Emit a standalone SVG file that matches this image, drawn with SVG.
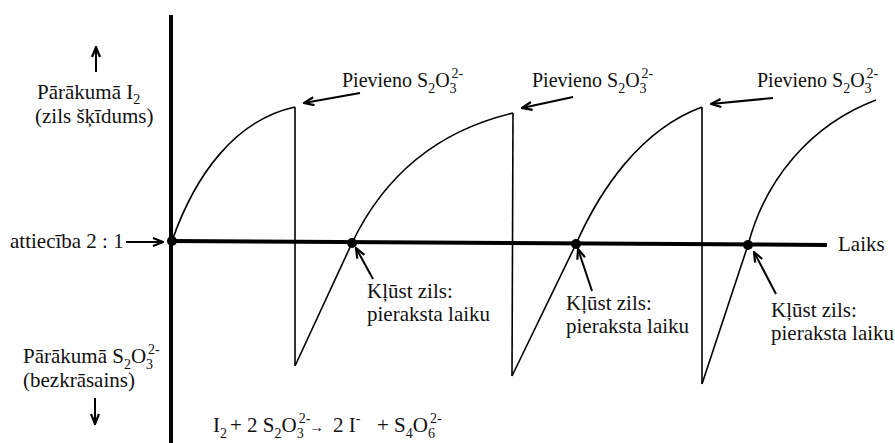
<svg xmlns="http://www.w3.org/2000/svg" width="895" height="443" viewBox="0 0 895 443">
<style>
.t{font-family:"Liberation Serif","DejaVu Serif","Times New Roman",serif;font-size:21px;fill:#111}
.p{font-size:20px}
.s{font-size:14px}
.axis{stroke:#000;stroke-width:4;fill:none;stroke-linecap:butt}
.curve{stroke:#000;stroke-width:1.6;fill:none;stroke-linejoin:miter}
.vline{stroke:#000;stroke-width:1.6;fill:none}
.arr{stroke:#000;stroke-width:2;fill:none;marker-end:url(#ah)}
.dot{fill:#000}
</style>
<defs>
<marker id="ah" viewBox="0 0 12 10" refX="11" refY="5" markerWidth="12" markerHeight="10" markerUnits="userSpaceOnUse" orient="auto">
<path d="M1,1 L11,5 L1,9" fill="none" stroke="#000" stroke-width="2.2"/>
</marker>
</defs>
<rect width="895" height="443" fill="#fff"/>

<g id="axes">
<line class="axis" x1="171" y1="15" x2="171" y2="443"/>
<line class="axis" x1="169" y1="241" x2="827" y2="245"/>
</g>

<g id="curves">
<path class="curve" d="M172,241 C195,175 235,120 295,107"/>
<line class="vline" x1="295" y1="107" x2="295" y2="366"/>
<path class="curve" d="M295,366 L352,243 C375,195 420,135 513,113"/>
<line class="vline" x1="513" y1="113" x2="512" y2="376"/>
<path class="curve" d="M512,376 L576,244 C600,190 640,130 702,107"/>
<line class="vline" x1="702" y1="107" x2="702" y2="384"/>
<path class="curve" d="M702,384 L748,245 C765,180 810,125 876,100"/>
</g>

<g id="points">
<circle class="dot" cx="172" cy="241" r="5"/>
<circle class="dot" cx="352" cy="243" r="5"/>
<circle class="dot" cx="576" cy="244" r="5"/>
<circle class="dot" cx="748" cy="245" r="5"/>
</g>

<g id="connectors">
<line class="arr" x1="96" y1="72" x2="96" y2="47"/>
<line class="arr" x1="95" y1="398" x2="95" y2="424"/>
<line class="arr" x1="126" y1="242" x2="163" y2="242"/>
<line class="arr" x1="360" y1="93" x2="304" y2="103"/>
<line class="arr" x1="573" y1="97" x2="522" y2="108"/>
<line class="arr" x1="773" y1="98" x2="711" y2="104"/>
<line class="arr" x1="373" y1="279" x2="356" y2="248"/>
<line class="arr" x1="592" y1="291" x2="578" y2="249"/>
<line class="arr" x1="776" y1="294" x2="754" y2="252"/>
</g>

<g id="label-excess-i2">
<text class="t" x="37" y="99">Pārākumā I<tspan class="s" dy="5">2</tspan></text>
<text class="t" x="35" y="123">(zils šķīdums)</text>
</g>

<g id="label-excess-s2o3">
<text class="t" x="23" y="363">Pārākumā S<tspan class="s" dy="6">2</tspan><tspan dy="-6">O</tspan><tspan class="s" dy="6">3</tspan><tspan class="s" dx="-5" dy="-15">2-</tspan></text>
<text class="t" x="23" y="387">(bezkrāsains)</text>
</g>

<g id="label-ratio">
<text class="t" x="10" y="248">attiecība 2 : 1</text>
</g>

<g id="label-time">
<text class="t" x="838" y="251">Laiks</text>
</g>

<g id="label-add-1">
<text class="t p" x="342" y="87">Pievieno S<tspan class="s" dy="6">2</tspan><tspan dy="-6">O</tspan><tspan class="s" dy="6">3</tspan><tspan class="s" dx="-5" dy="-15">2-</tspan></text>
</g>
<g id="label-add-2">
<text class="t p" x="532" y="87">Pievieno S<tspan class="s" dy="6">2</tspan><tspan dy="-6">O</tspan><tspan class="s" dy="6">3</tspan><tspan class="s" dx="-5" dy="-15">2-</tspan></text>
</g>
<g id="label-add-3">
<text class="t p" x="757" y="87">Pievieno S<tspan class="s" dy="6">2</tspan><tspan dy="-6">O</tspan><tspan class="s" dy="6">3</tspan><tspan class="s" dx="-5" dy="-15">2-</tspan></text>
</g>

<g id="label-blue-1">
<text class="t" x="367" y="298">Kļūst zils:</text>
<text class="t" x="367" y="321">pieraksta laiku</text>
</g>
<g id="label-blue-2">
<text class="t" x="566" y="310">Kļūst zils:</text>
<text class="t" x="566" y="333">pieraksta laiku</text>
</g>
<g id="label-blue-3">
<text class="t" x="771" y="317">Kļūst zils:</text>
<text class="t" x="771" y="340">pieraksta laiku</text>
</g>

<g id="label-equation">
<text class="t" y="432"><tspan x="213">I</tspan><tspan class="s" dy="6">2</tspan><tspan x="230" dy="-6">+ 2 S</tspan><tspan class="s" dy="6">2</tspan><tspan dy="-6">O</tspan><tspan class="s" dy="6">3</tspan><tspan class="s" dx="-5" dy="-15">2-</tspan><tspan x="309" dy="9" style="font-size:15px">→</tspan><tspan x="333">2 I</tspan><tspan class="s" dy="-9">-</tspan><tspan x="377" dy="9">+ S</tspan><tspan class="s" dy="6">4</tspan><tspan dy="-6">O</tspan><tspan class="s" dy="6">6</tspan><tspan class="s" dx="-5" dy="-15">2-</tspan></text>
</g>
</svg>
